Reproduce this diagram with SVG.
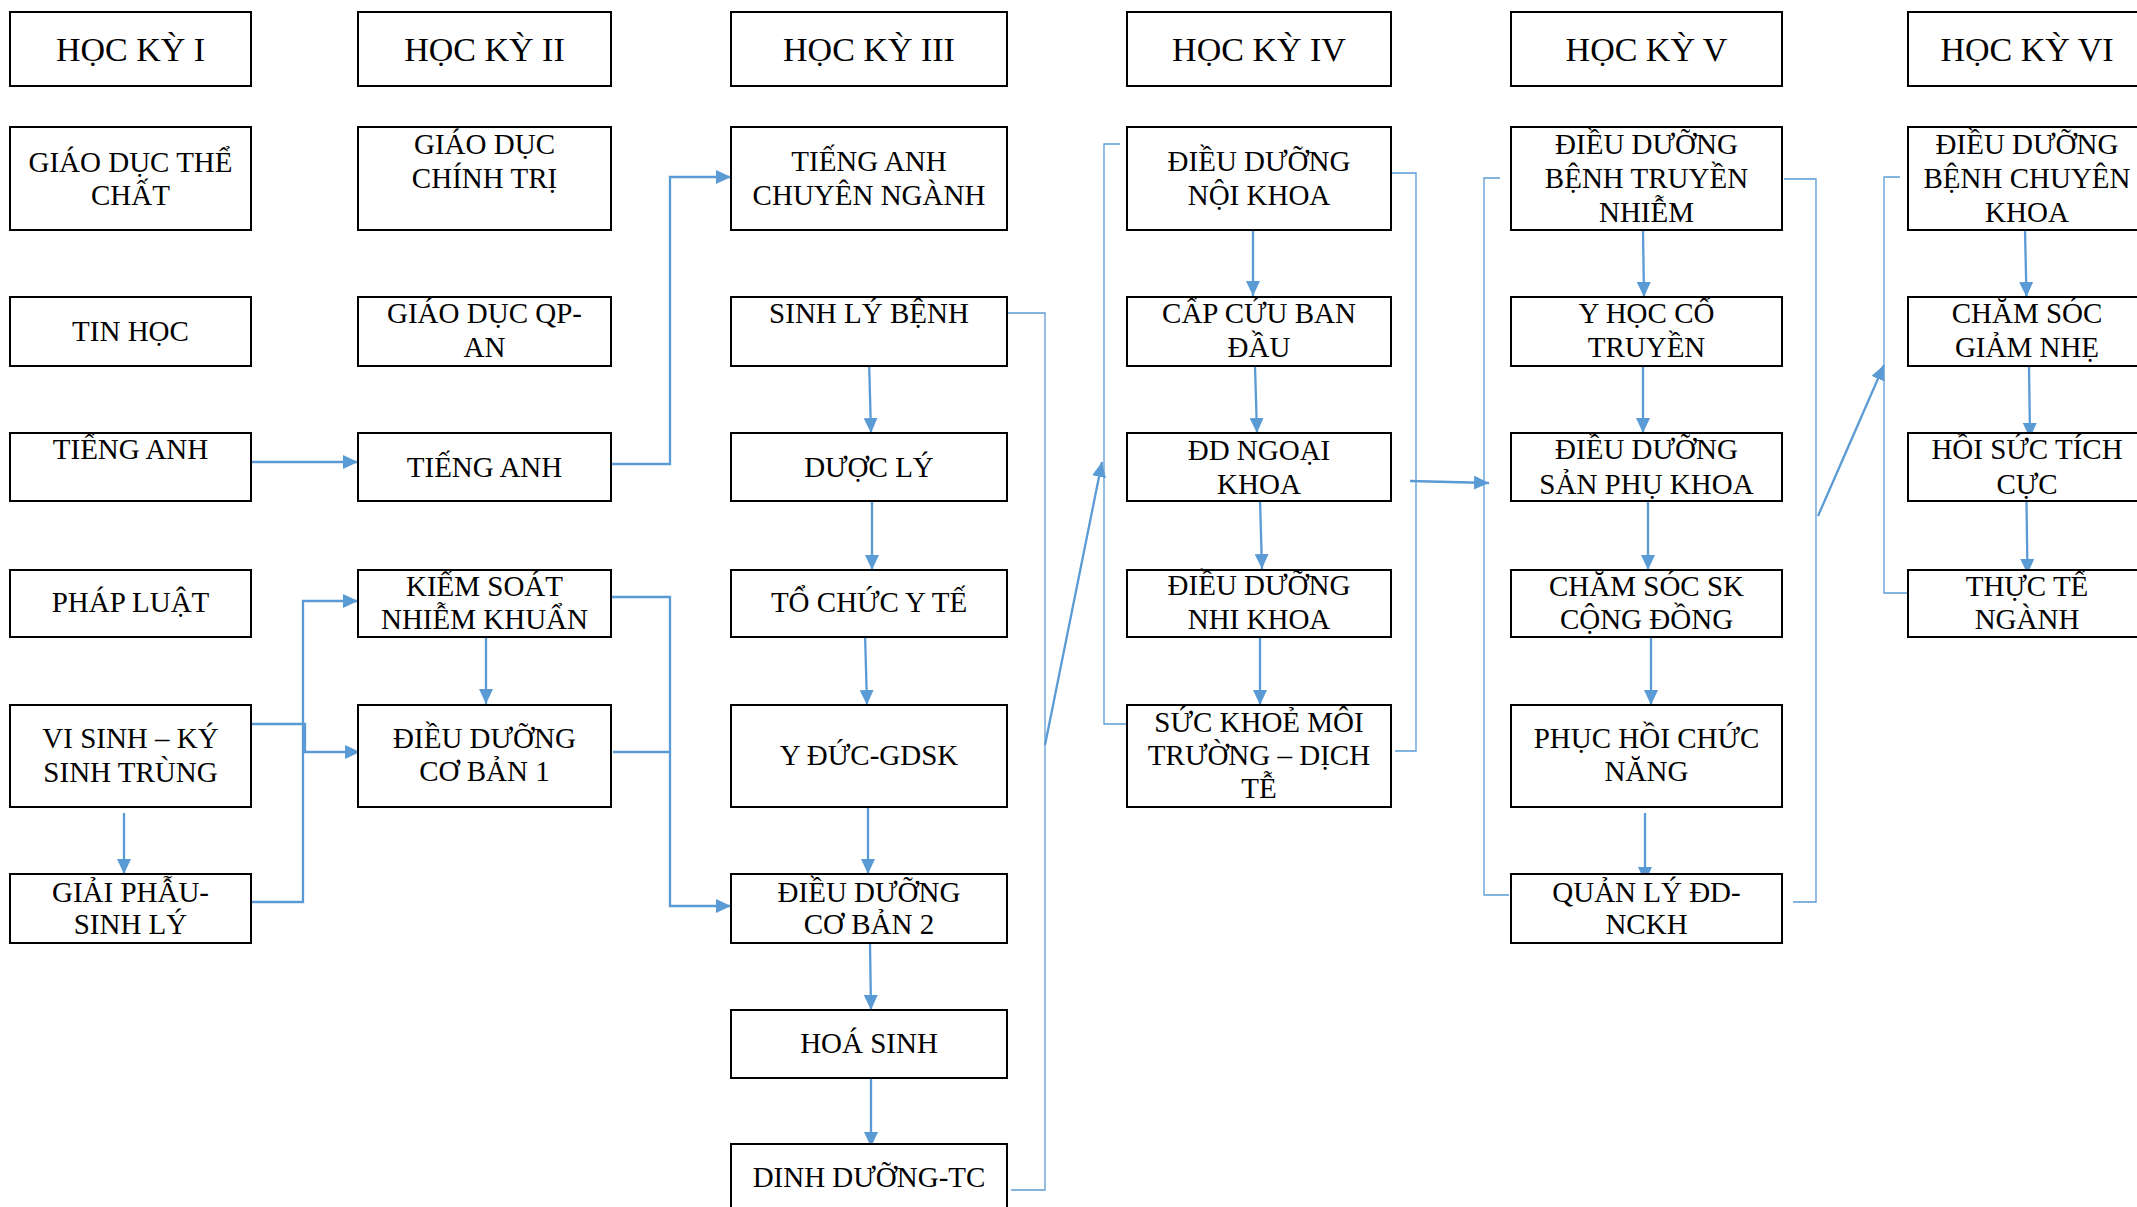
<svg xmlns="http://www.w3.org/2000/svg" width="2137" height="1207" viewBox="0 0 2137 1207">
<style>
.b{fill:#fff;stroke:#000;stroke-width:2}
.h{font-family:"Liberation Serif","Times New Roman",serif;font-size:34px;text-anchor:middle;fill:#000}
.x{font-family:"Liberation Serif","Times New Roman",serif;font-size:29px;text-anchor:middle;fill:#000}
.t{fill:none;stroke:#5B9BD5;stroke-width:2.3}
.a{marker-end:url(#ar)}
.n{fill:none;stroke:#5B9BD5;stroke-width:1.3}
</style>
<defs>
<marker id="ar" markerUnits="userSpaceOnUse" markerWidth="15" markerHeight="14" refX="15" refY="7" orient="auto" viewBox="0 0 15 14">
<path d="M0,0 L15,7 L0,14 Z" fill="#5B9BD5"/>
</marker>
</defs>
<rect width="2137" height="1207" fill="#fff"/>

<g id="connectors">
<path class="t a" d="M251 462 H358"/>
<path class="t a" d="M611 464 H670 V177 H731"/>
<path class="t a" d="M124 813 V874"/>
<path class="t a" d="M248 724 H305 V752 H360"/>
<path class="t a" d="M251 902 H303 V601 H358"/>
<path class="t a" d="M486 637 V704"/>
<path class="t a" d="M608 597 H670 V906 H731"/>
<path class="t" d="M613 752 H670"/>
<path class="t a" d="M869 358 L871 433"/>
<path class="t a" d="M872 502 V570"/>
<path class="t a" d="M865 633 L867 705"/>
<path class="t a" d="M868 800 V874"/>
<path class="t a" d="M870 943 L871 1010"/>
<path class="t a" d="M871 1078 V1147"/>
<path class="n" d="M1005 313 H1045 V1190 H1011"/>
<path class="t a" d="M1045 745 L1102 462"/>
<path class="n" d="M1120 144 H1104 V724 H1128"/>
<path class="t a" d="M1253 228 V296"/>
<path class="t a" d="M1255 366 L1257 433"/>
<path class="t a" d="M1260 500 L1262 569"/>
<path class="t a" d="M1260 632 V705"/>
<path class="n" d="M1384 173 H1416 V751 H1395"/>
<path class="t a" d="M1410 481 L1489 483"/>
<path class="n" d="M1500 178 H1484 V895 H1509"/>
<path class="t a" d="M1643 230 L1644 297"/>
<path class="t a" d="M1643 366 V433"/>
<path class="t a" d="M1648 501 V570"/>
<path class="t a" d="M1651 636 V705"/>
<path class="t a" d="M1645 813 V882"/>
<path class="n" d="M1784 179 H1816 V902 H1793"/>
<path class="t a" d="M1818 516 L1884 365"/>
<path class="n" d="M1900 177 H1884 V593 H1910"/>
<path class="t a" d="M2025 230 L2026.5 297"/>
<path class="t a" d="M2029 366 L2030 438"/>
<path class="t a" d="M2026.5 502 L2027.5 574"/>
</g>

<!-- Column 1 -->
<g id="hk1"><rect class="b" x="10" y="12" width="241" height="74"/><text class="h" x="130.5" y="61">HỌC KỲ I</text></g>
<g id="gdtc"><rect class="b" x="10" y="127" width="241" height="103"/><text class="x" x="130.5" y="172">GIÁO DỤC THỂ</text><text class="x" x="130.5" y="205">CHẤT</text></g>
<g id="tinhoc"><rect class="b" x="10" y="297" width="241" height="69"/><text class="x" x="130.5" y="341">TIN HỌC</text></g>
<g id="tienganh1"><rect class="b" x="10" y="433" width="241" height="68"/><text class="x" x="130.5" y="459">TIẾNG ANH</text></g>
<g id="phapluat"><rect class="b" x="10" y="570" width="241" height="67"/><text class="x" x="130.5" y="612">PHÁP LUẬT</text></g>
<g id="visinh"><rect class="b" x="10" y="705" width="241" height="102"/><text class="x" x="130.5" y="748">VI SINH – KÝ</text><text class="x" x="130.5" y="782">SINH TRÙNG</text></g>
<g id="giaiphau"><rect class="b" x="10" y="874" width="241" height="69"/><text class="x" x="130.5" y="902">GIẢI PHẪU-</text><text class="x" x="130.5" y="934">SINH LÝ</text></g>

<!-- Column 2 -->
<g id="hk2"><rect class="b" x="358" y="12" width="253" height="74"/><text class="h" x="484.5" y="61">HỌC KỲ II</text></g>
<g id="gdct"><rect class="b" x="358" y="127" width="253" height="103"/><text class="x" x="484.5" y="154">GIÁO DỤC</text><text class="x" x="484.5" y="188">CHÍNH TRỊ</text></g>
<g id="gdqp"><rect class="b" x="358" y="297" width="253" height="69"/><text class="x" x="484.5" y="323">GIÁO DỤC QP-</text><text class="x" x="484.5" y="357">AN</text></g>
<g id="tienganh2"><rect class="b" x="358" y="433" width="253" height="68"/><text class="x" x="484.5" y="477">TIẾNG ANH</text></g>
<g id="ksnk"><rect class="b" x="358" y="570" width="253" height="67"/><text class="x" x="484.5" y="596">KIỂM SOÁT</text><text class="x" x="484.5" y="629">NHIỄM KHUẨN</text></g>
<g id="ddcb1"><rect class="b" x="358" y="705" width="253" height="102"/><text class="x" x="484.5" y="748">ĐIỀU DƯỠNG</text><text class="x" x="484.5" y="781">CƠ BẢN 1</text></g>

<!-- Column 3 -->
<g id="hk3"><rect class="b" x="731" y="12" width="276" height="74"/><text class="h" x="869" y="61">HỌC KỲ III</text></g>
<g id="tacn"><rect class="b" x="731" y="127" width="276" height="103"/><text class="x" x="869" y="171">TIẾNG ANH</text><text class="x" x="869" y="205">CHUYÊN NGÀNH</text></g>
<g id="slb"><rect class="b" x="731" y="297" width="276" height="69"/><text class="x" x="869" y="323">SINH LÝ BỆNH</text></g>
<g id="duocly"><rect class="b" x="731" y="433" width="276" height="68"/><text class="x" x="869" y="477">DƯỢC LÝ</text></g>
<g id="tcyt"><rect class="b" x="731" y="570" width="276" height="67"/><text class="x" x="869" y="612">TỔ CHỨC Y TẾ</text></g>
<g id="yduc"><rect class="b" x="731" y="705" width="276" height="102"/><text class="x" x="869" y="765">Y ĐỨC-GDSK</text></g>
<g id="ddcb2"><rect class="b" x="731" y="874" width="276" height="69"/><text class="x" x="869" y="902">ĐIỀU DƯỠNG</text><text class="x" x="869" y="934">CƠ BẢN 2</text></g>
<g id="hoasinh"><rect class="b" x="731" y="1010" width="276" height="68"/><text class="x" x="869" y="1053">HOÁ SINH</text></g>
<g id="dinhduong"><rect class="b" x="731" y="1144" width="276" height="69"/><text class="x" x="869" y="1187">DINH DƯỠNG-TC</text></g>

<!-- Column 4 -->
<g id="hk4"><rect class="b" x="1127" y="12" width="264" height="74"/><text class="h" x="1259" y="61">HỌC KỲ IV</text></g>
<g id="ddnoi"><rect class="b" x="1127" y="127" width="264" height="103"/><text class="x" x="1259" y="171">ĐIỀU DƯỠNG</text><text class="x" x="1259" y="205">NỘI KHOA</text></g>
<g id="capcuu"><rect class="b" x="1127" y="297" width="264" height="69"/><text class="x" x="1259" y="323">CẤP CỨU BAN</text><text class="x" x="1259" y="357">ĐẦU</text></g>
<g id="ddngoai"><rect class="b" x="1127" y="433" width="264" height="68"/><text class="x" x="1259" y="460">ĐD NGOẠI</text><text class="x" x="1259" y="494">KHOA</text></g>
<g id="ddnhi"><rect class="b" x="1127" y="570" width="264" height="67"/><text class="x" x="1259" y="595">ĐIỀU DƯỠNG</text><text class="x" x="1259" y="629">NHI KHOA</text></g>
<g id="skmt"><rect class="b" x="1127" y="705" width="264" height="102"/><text class="x" x="1259" y="732">SỨC KHOẺ MÔI</text><text class="x" x="1259" y="765">TRƯỜNG – DỊCH</text><text class="x" x="1259" y="798">TỄ</text></g>

<!-- Column 5 -->
<g id="hk5"><rect class="b" x="1511" y="12" width="271" height="74"/><text class="h" x="1646.5" y="61">HỌC KỲ V</text></g>
<g id="ddbtn"><rect class="b" x="1511" y="127" width="271" height="103"/><text class="x" x="1646.5" y="154">ĐIỀU DƯỠNG</text><text class="x" x="1646.5" y="188">BỆNH TRUYỀN</text><text class="x" x="1646.5" y="222">NHIỄM</text></g>
<g id="yhct"><rect class="b" x="1511" y="297" width="271" height="69"/><text class="x" x="1646.5" y="323">Y HỌC CỔ</text><text class="x" x="1646.5" y="357">TRUYỀN</text></g>
<g id="ddspk"><rect class="b" x="1511" y="433" width="271" height="68"/><text class="x" x="1646.5" y="459">ĐIỀU DƯỠNG</text><text class="x" x="1646.5" y="494">SẢN PHỤ KHOA</text></g>
<g id="csskcd"><rect class="b" x="1511" y="570" width="271" height="67"/><text class="x" x="1646.5" y="596">CHĂM SÓC SK</text><text class="x" x="1646.5" y="629">CỘNG ĐỒNG</text></g>
<g id="phcn"><rect class="b" x="1511" y="705" width="271" height="102"/><text class="x" x="1646.5" y="748">PHỤC HỒI CHỨC</text><text class="x" x="1646.5" y="781">NĂNG</text></g>
<g id="qldd"><rect class="b" x="1511" y="874" width="271" height="69"/><text class="x" x="1646.5" y="902">QUẢN LÝ ĐD-</text><text class="x" x="1646.5" y="934">NCKH</text></g>

<!-- Column 6 -->
<g id="hk6"><rect class="b" x="1908" y="12" width="250" height="74"/><text class="h" x="2027" y="61">HỌC KỲ VI</text></g>
<g id="ddbck"><rect class="b" x="1908" y="127" width="250" height="103"/><text class="x" x="2027" y="154">ĐIỀU DƯỠNG</text><text class="x" x="2027" y="188">BỆNH CHUYÊN</text><text class="x" x="2027" y="222">KHOA</text></g>
<g id="csgn"><rect class="b" x="1908" y="297" width="250" height="69"/><text class="x" x="2027" y="323">CHĂM SÓC</text><text class="x" x="2027" y="357">GIẢM NHẸ</text></g>
<g id="hstc"><rect class="b" x="1908" y="433" width="250" height="68"/><text class="x" x="2027" y="459">HỒI SỨC TÍCH</text><text class="x" x="2027" y="494">CỰC</text></g>
<g id="thucte"><rect class="b" x="1908" y="570" width="250" height="67"/><text class="x" x="2027" y="596">THỰC TẾ</text><text class="x" x="2027" y="629">NGÀNH</text></g>
</svg>
